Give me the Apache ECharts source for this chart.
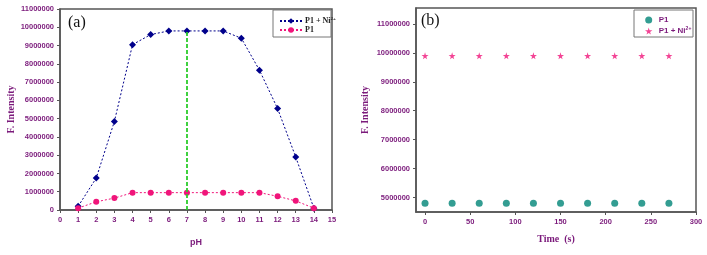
<!DOCTYPE html>
<html>
<head>
<meta charset="utf-8">
<script src="https://cdn.jsdelivr.net/npm/echarts@6/dist/echarts.min.js"></script>
<style>html,body{margin:0;padding:0;background:#fff;}#c{width:707px;height:255px;}</style>
</head>
<body>
<div id="c"></div>
<script>
// Panel (a): pH dependence
const phValues = [1,2,3,4,5,6,7,8,9,10,11,12,13,14];
const p1NiByPh = [200000,1750000,4850000,9050000,9600000,9800000,9800000,9800000,9800000,9400000,7650000,5550000,2900000,100000];
const p1ByPh = [100000,450000,650000,950000,950000,950000,950000,950000,950000,950000,950000,750000,500000,100000];
const optimumPh = 7;
const optimumPeak = 9800000;
// Panel (b): time stability
const timeValues = [0,30,60,90,120,150,180,210,240,270];
const p1ByTime = [4800000,4800000,4800000,4800000,4800000,4800000,4800000,4800000,4800000,4800000];
const p1NiByTime = [9900000,9900000,9900000,9900000,9900000,9900000,9900000,9900000,9900000,9900000];
const yTicksB = [5000000,6000000,7000000,8000000,9000000,10000000,11000000];
const xTicksB = [0,50,100,150,200,250,300];

const purple = '#7b1a7b';
const axisCol = '#555';
const navy = '#00008b';
const pink = '#f0157a';
const teal = '#008577';

const chart = echarts.init(document.getElementById('c'));
const plain = v => String(v);
const labelStyle = {color: purple, fontSize: 7.5, fontWeight: 'bold', fontFamily: 'Liberation Sans', formatter: plain};
const nameStyleSerif = {color: purple, fontSize: 10, fontWeight: 'bold', fontFamily: 'Liberation Serif'};
const supRich = {sup: {fontSize: 5, verticalAlign: 'top', padding: [0,0,5,0], fontWeight: 'bold', fontFamily: 'Liberation Serif', color: '#222'}};

chart.setOption({
  animation: false,
  backgroundColor: '#fff',
  grid: [
    {left: 60, top: 9, width: 272, height: 201},
    {left: 416, top: 8, width: 280, height: 204}
  ],
  xAxis: [
    {gridIndex: 0, type: 'value', min: 0, max: 15, interval: 1,
     name: 'pH', nameLocation: 'middle', nameGap: 28,
     nameTextStyle: {color: purple, fontSize: 9, fontWeight: 'bold', fontFamily: 'Liberation Sans'},
     axisLine: {show: true, onZero: false, lineStyle: {color: axisCol, width: 1.5}},
     axisTick: {show: true, length: 3, lineStyle: {color: axisCol}},
     axisLabel: Object.assign({margin: 6}, labelStyle),
     splitLine: {show: false}},
    {gridIndex: 1, type: 'value', min: -10, max: 300,
     name: 'Time  (s)', nameLocation: 'middle', nameGap: 22,
     nameTextStyle: nameStyleSerif,
     axisLine: {show: true, onZero: false, lineStyle: {color: axisCol, width: 1.5}},
     axisTick: {show: true, length: 3, lineStyle: {color: axisCol}, customValues: xTicksB},
     axisLabel: Object.assign({margin: 6, customValues: xTicksB}, labelStyle),
     splitLine: {show: false}}
  ],
  yAxis: [
    {gridIndex: 0, type: 'value', min: 0, max: 11000000, interval: 1000000,
     name: 'F. Intensity', nameLocation: 'middle', nameGap: 44,
     nameTextStyle: nameStyleSerif,
     axisLine: {show: true, onZero: false, lineStyle: {color: axisCol, width: 1.5}},
     axisTick: {show: true, length: 3, lineStyle: {color: axisCol}},
     axisLabel: Object.assign({margin: 6}, labelStyle),
     splitLine: {show: false}},
    {gridIndex: 1, type: 'value', min: 4500000, max: 11550000,
     name: 'F. Intensity', nameLocation: 'middle', nameGap: 46,
     nameTextStyle: nameStyleSerif,
     axisLine: {show: true, onZero: false, lineStyle: {color: axisCol, width: 1.5}},
     axisTick: {show: true, length: 3, lineStyle: {color: axisCol}, customValues: yTicksB},
     axisLabel: Object.assign({margin: 6, customValues: yTicksB}, labelStyle),
     splitLine: {show: false}}
  ],
  graphic: [
    {type: 'rect', shape: {x: 60, y: 9, width: 272, height: 201}, style: {fill: 'none', stroke: axisCol, lineWidth: 1.5}, silent: true},
    {type: 'rect', shape: {x: 416, y: 8, width: 280, height: 204}, style: {fill: 'none', stroke: axisCol, lineWidth: 1.5}, silent: true},
    {type: 'rect', shape: {x: 273, y: 10, width: 58, height: 27}, style: {fill: '#fff', stroke: '#777', lineWidth: 1}, silent: true, z: 5},
    {type: 'rect', shape: {x: 634, y: 10, width: 59, height: 27}, style: {fill: '#fff', stroke: '#777', lineWidth: 1}, silent: true, z: 5},
    {type: 'text', left: 68, top: 15, style: {text: '(a)', fontSize: 16, fontFamily: 'Liberation Serif', fill: '#111'}, z: 10},
    {type: 'text', left: 421, top: 13, style: {text: '(b)', fontSize: 16, fontFamily: 'Liberation Serif', fill: '#111'}, z: 10}
  ],
  legend: [
    {left: 274, top: 11, orient: 'vertical', itemGap: 1, itemWidth: 22, itemHeight: 7, z: 10,
     data: ['P1 + Ni2+ (a)', 'P1 (a)'],
     formatter: function (n) { return n === 'P1 (a)' ? 'P1' : 'P1 + Ni{sup|2+}'; },
     textStyle: {fontSize: 8, fontWeight: 'bold', fontFamily: 'Liberation Serif', color: '#222', padding: [0,0,0,-2], rich: supRich}},
    {left: 640, top: 11, orient: 'vertical', itemGap: 2, itemWidth: 10, itemHeight: 7, z: 10,
     data: ['P1 (b)', 'P1 + Ni2+ (b)'],
     formatter: function (n) { return n === 'P1 (b)' ? 'P1' : 'P1 + Ni{sup|2+}'; },
     textStyle: {fontSize: 8, fontWeight: 'bold', fontFamily: 'Liberation Sans', color: purple, rich: {sup: {fontSize: 5, verticalAlign: 'top', padding: [0,0,5,0], fontWeight: 'bold', color: purple}}}}
  ],
  series: [
    {name: 'P1 + Ni2+ (a)', type: 'line', xAxisIndex: 0, yAxisIndex: 0,
     data: phValues.map((x, i) => [x, p1NiByPh[i]]),
     symbol: 'diamond', symbolSize: 7, color: navy,
     lineStyle: {color: navy, width: 1, type: [2, 2]}, itemStyle: {color: navy},
     markLine: {silent: true, symbol: 'none', label: {show: false},
       lineStyle: {color: '#2ccc2c', width: 1.8, type: [4, 2]},
       data: [[{coord: [optimumPh, 0]}, {coord: [optimumPh, optimumPeak]}]]}},
    {name: 'P1 (a)', type: 'line', xAxisIndex: 0, yAxisIndex: 0,
     data: phValues.map((x, i) => [x, p1ByPh[i]]),
     symbol: 'circle', symbolSize: 6, color: pink,
     lineStyle: {color: pink, width: 1, type: [2, 2]}, itemStyle: {color: pink}},
    {name: 'P1 (b)', type: 'scatter', xAxisIndex: 1, yAxisIndex: 1,
     data: timeValues.map((x, i) => [x, p1ByTime[i]]),
     symbol: 'circle', symbolSize: 7, itemStyle: {color: teal}},
    {name: 'P1 + Ni2+ (b)', type: 'scatter', xAxisIndex: 1, yAxisIndex: 1,
     data: timeValues.map((x, i) => [x, p1NiByTime[i]]),
     symbol: 'path://M50,0 L61,35 L98,35 L68,57 L79,91 L50,70 L21,91 L32,57 L2,35 L39,35 Z',
     symbolSize: 7, itemStyle: {color: pink}}
  ]
});
</script>
</body>
</html>
